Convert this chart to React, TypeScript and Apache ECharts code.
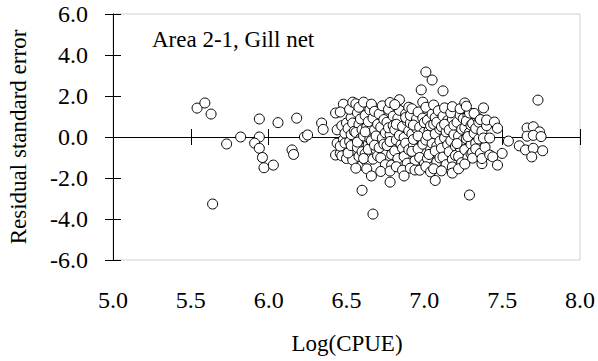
import React, { useEffect, useRef } from "react";
import * as echarts from "echarts";

// Log(CPUE) vs residual standard error, Area 2-1 gill net
const xTicks = [5.0, 5.5, 6.0, 6.5, 7.0, 7.5, 8.0];
const yTicks = [-6, -4, -2, 0, 2, 4, 6];

const sparseLeft: [number, number][] = [
  [5.54, 1.41], [5.59, 1.66], [5.63, 1.12], [5.64, -3.27], [5.73, -0.34],
  [5.82, 0.0], [5.94, 0.88], [5.94, 0.0], [5.91, -0.3], [5.94, -0.55],
  [5.96, -1.0], [5.97, -1.5], [6.03, -1.37], [6.06, 0.7], [6.15, -0.63],
  [6.16, -0.85], [6.18, 0.92], [6.23, 0.0], [6.25, 0.1], [6.34, 0.68],
  [6.35, 0.37], [6.43, 1.17], [6.44, 0.35], [6.44, -0.3], [6.43, -0.88],
  [6.46, -0.8], [6.48, 1.6],
];

const clusterWest: [number, number][] = [
  [6.46, 1.22], [6.47, 0.55], [6.48, -0.12], [6.46, -0.45], [6.49, 0.18],
  [6.47, -0.92], [6.5, 0.68], [6.49, -0.3], [6.5, -1.05],
  [6.51, 0.42], [6.52, -0.22], [6.53, 0.95], [6.52, 1.35], [6.54, -0.65],
  [6.53, 0.12], [6.54, -1.12], [6.51, -0.78], [6.54, 0.68], [6.55, 0.28],
  [6.54, 1.7], [6.53, -0.42],
  [6.56, 1.62], [6.57, 1.18], [6.58, 0.62], [6.56, 0.22], [6.59, -0.08],
  [6.57, -0.52], [6.58, -0.95], [6.6, -1.37], [6.56, -1.52], [6.59, 0.88],
  [6.6, 0.35], [6.57, -0.25], [6.58, 1.45], [6.6, -0.72], [6.6, -2.6],
  [6.61, 1.7], [6.62, 1.05], [6.63, 0.48], [6.61, 0.05], [6.64, -0.35],
  [6.62, -0.82], [6.63, -1.22], [6.65, 1.32], [6.64, 0.75], [6.65, -0.1],
  [6.61, -1.05], [6.63, -1.55], [6.62, 0.25], [6.64, -0.6],
  [6.66, 1.6], [6.67, 0.92], [6.68, 0.35], [6.66, -0.18], [6.69, -0.62],
  [6.67, -1.08], [6.7, 0.62], [6.68, 1.25], [6.69, 0.05], [6.7, -0.92],
  [6.66, -1.9], [6.68, -0.4], [6.67, -3.76],
  [6.71, 1.12], [6.72, 0.48], [6.73, -0.05], [6.71, -0.52], [6.74, 0.85],
  [6.72, -1.02], [6.75, 0.2], [6.73, 1.52], [6.74, -0.35], [6.75, -1.35],
  [6.72, -1.68],
  [6.76, 0.72], [6.77, 1.35], [6.78, 0.12], [6.76, -0.42], [6.79, -0.85],
  [6.77, 0.45], [6.8, 1.02], [6.78, -0.22], [6.79, -1.37], [6.8, 0.55],
  [6.78, -1.66], [6.78, 1.68], [6.78, -2.2],
  [6.81, 0.35], [6.82, -0.15], [6.83, 0.92], [6.81, -0.68], [6.84, 1.3],
  [6.82, 0.62], [6.85, -0.38], [6.83, -1.05], [6.84, 0.08], [6.84, 1.82],
  [6.81, 1.58], [6.82, -1.45],
  [6.86, 0.52], [6.87, -0.02], [6.88, 1.12], [6.86, -0.55], [6.89, 0.78],
  [6.87, -0.95], [6.9, 0.3], [6.88, -0.3], [6.89, -1.28], [6.9, 1.45],
  [6.86, -1.62], [6.88, 0.95], [6.87, -1.9], [6.9, -0.62],
  [6.91, 0.68], [6.92, 0.15], [6.93, -0.42], [6.91, 1.05], [6.94, -0.85],
  [6.92, 1.38], [6.95, 0.42], [6.93, -0.12], [6.94, -1.15], [6.95, 0.88],
  [6.91, -1.52], [6.93, 0.58], [6.92, -0.7], [6.94, -1.61],
];

const clusterEast: [number, number][] = [
  [6.96, 1.22], [6.97, 0.48], [6.98, -0.08], [6.96, -0.58], [6.99, 0.92],
  [6.97, -1.0], [7.0, 0.25], [6.99, 1.7], [6.99, -0.35], [7.0, -1.32],
  [6.96, 0.05], [6.98, 2.3], [6.97, -1.62], [7.0, 0.7],
  [7.01, 1.45], [7.02, 0.82], [7.03, 0.32], [7.01, -0.15], [7.04, -0.62],
  [7.02, -1.05], [7.05, 1.12], [7.01, 3.17], [7.04, 0.55], [7.05, -0.3],
  [7.01, -1.45], [7.03, -0.85], [7.02, 0.08], [7.04, -1.7], [7.05, 2.78],
  [7.06, 0.62], [7.07, 0.15], [7.08, -0.45], [7.06, 1.56], [7.09, -0.88],
  [7.07, 0.95], [7.1, 0.38], [7.08, -1.22], [7.09, 1.28], [7.1, -0.2],
  [7.06, -1.55], [7.08, 0.72], [7.07, -0.68], [7.1, -1.02], [7.07, -2.12],
  [7.11, 0.5], [7.12, 1.02], [7.13, -0.05], [7.11, -0.55], [7.14, 0.25],
  [7.12, -0.98], [7.15, 0.8], [7.13, 1.42], [7.14, -1.35], [7.15, -0.38],
  [7.11, -1.65], [7.13, 0.62], [7.12, 2.25],
  [7.16, 0.35], [7.17, -0.18], [7.18, 0.88], [7.16, -0.72], [7.19, 0.12],
  [7.17, 1.18], [7.2, -0.45], [7.18, -1.1], [7.19, 0.58], [7.2, -0.9],
  [7.18, -1.46], [7.18, -1.76], [7.18, 1.48],
  [7.21, 0.72], [7.22, 0.05], [7.23, -0.52], [7.23, 1.07], [7.24, 0.38],
  [7.22, -0.95], [7.25, -0.15], [7.23, 1.38], [7.24, -1.25], [7.25, 0.9],
  [7.21, -0.32], [7.22, -1.55], [7.26, 1.66],
  [7.26, 0.45], [7.27, -0.08], [7.28, 1.05], [7.26, -0.62], [7.29, 0.22],
  [7.27, 0.78], [7.3, -0.35], [7.28, -1.0], [7.29, 1.17], [7.3, 0.58],
  [7.26, -1.32], [7.28, 0.02], [7.27, 1.5], [7.3, -0.82], [7.29, -2.83],
  [7.31, 0.65], [7.32, 0.18], [7.33, -0.3], [7.31, -0.75], [7.34, 0.95],
  [7.32, 1.15], [7.35, -0.1], [7.33, 0.42], [7.34, -0.92], [7.35, 0.72],
  [7.31, -1.03], [7.33, -0.58],
  [7.36, -0.8], [7.37, 0.28], [7.38, 1.42], [7.36, 0.85], [7.39, -0.5],
  [7.37, -1.3], [7.4, 0.55], [7.38, -0.05], [7.37, -1.05], [7.4, 0.83],
];

const rightTail: [number, number][] = [
  [7.42, -0.05], [7.45, 0.73], [7.47, 0.43], [7.42, -0.88], [7.44, -0.97],
  [7.47, -1.37], [7.5, -0.8], [7.54, -0.2],
  [7.73, 1.8], [7.66, 0.44], [7.7, 0.5], [7.74, 0.25], [7.66, 0.04],
  [7.7, 0.08], [7.75, 0.02], [7.61, -0.43], [7.65, -0.63], [7.7, -0.55],
  [7.76, -0.67], [7.69, -0.97],
];

const allPoints = [...sparseLeft, ...clusterWest, ...clusterEast, ...rightTail];

const FONT = "Liberation Serif";
const FS = 23;
const TICK_FS = 24;

export default function App() {
  const ref = useRef<HTMLDivElement>(null);

  useEffect(() => {
    if (!ref.current) return;
    const chart = echarts.init(ref.current, undefined, { renderer: "svg" });

    const baseX = {
      type: "value" as const,
      min: xTicks[0],
      max: xTicks[xTicks.length - 1],
      interval: 0.5,
      splitLine: { show: false },
    };
    const baseY = {
      type: "value" as const,
      min: yTicks[0],
      max: yTicks[yTicks.length - 1],
      interval: 2,
      splitLine: { show: false },
    };

    chart.setOption({
      animation: false,
      backgroundColor: "#fff",
      grid: {
        left: 113,
        right: 18,
        top: 14,
        bottom: 101,
        show: true,
        borderColor: "#cfcfcf",
        borderWidth: 1,
      },
      xAxis: [
        {
          ...baseX,
          position: "bottom",
          axisLine: { show: false, onZero: false },
          axisTick: { show: false },
          axisLabel: {
            margin: 28,
            color: "#000",
            fontFamily: FONT,
            fontSize: TICK_FS,
            formatter: (v: number) => v.toFixed(1),
          },
        },
        {
          ...baseX,
          position: "bottom",
          axisLine: { show: true, onZero: true, lineStyle: { color: "#000", width: 1 } },
          axisTick: { show: true, inside: false, length: 8, lineStyle: { color: "#000" } },
          axisLabel: { show: false },
        },
        {
          ...baseX,
          position: "bottom",
          axisLine: { show: false, onZero: true },
          axisTick: { show: true, inside: true, length: 8, lineStyle: { color: "#000" } },
          axisLabel: { show: false },
        },
      ],
      yAxis: [
        {
          ...baseY,
          position: "left",
          axisLine: { show: true, onZero: false, lineStyle: { color: "#000", width: 1 } },
          axisTick: { show: true, inside: false, length: 8, lineStyle: { color: "#000" } },
          axisLabel: {
            margin: 25,
            color: "#000",
            fontFamily: FONT,
            fontSize: TICK_FS,
            formatter: (v: number) => v.toFixed(1),
          },
        },
        {
          ...baseY,
          position: "left",
          axisLine: { show: false, onZero: false },
          axisTick: { show: true, inside: true, length: 8, lineStyle: { color: "#000" } },
          axisLabel: { show: false },
        },
      ],
      series: [
        {
          type: "scatter",
          xAxisIndex: 0,
          yAxisIndex: 0,
          data: allPoints,
          symbol: "circle",
          symbolSize: 10,
          itemStyle: { color: "#fff", borderColor: "#000", borderWidth: 1, opacity: 1 },
          z: 5,
        },
      ],
      graphic: [
        {
          type: "text",
          left: 152,
          top: 28,
          style: { text: "Area 2-1, Gill net", fontFamily: FONT, fontSize: FS, fill: "#000" },
        },
        {
          type: "text",
          x: 347,
          y: 343,
          style: {
            text: "Log(CPUE)",
            fontFamily: FONT,
            fontSize: FS,
            fill: "#000",
            align: "center",
            verticalAlign: "middle",
          },
        },
        {
          type: "text",
          x: 18,
          y: 137,
          rotation: Math.PI / 2,
          style: {
            text: "Residual standard error",
            fontFamily: FONT,
            fontSize: FS,
            fill: "#000",
            align: "center",
            verticalAlign: "middle",
          },
        },
      ],
    });

    return () => chart.dispose();
  }, []);

  return (
    <div
      ref={ref}
      style={{ position: "fixed", left: 0, top: 0, width: 598, height: 361, background: "#fff" }}
    />
  );
}
